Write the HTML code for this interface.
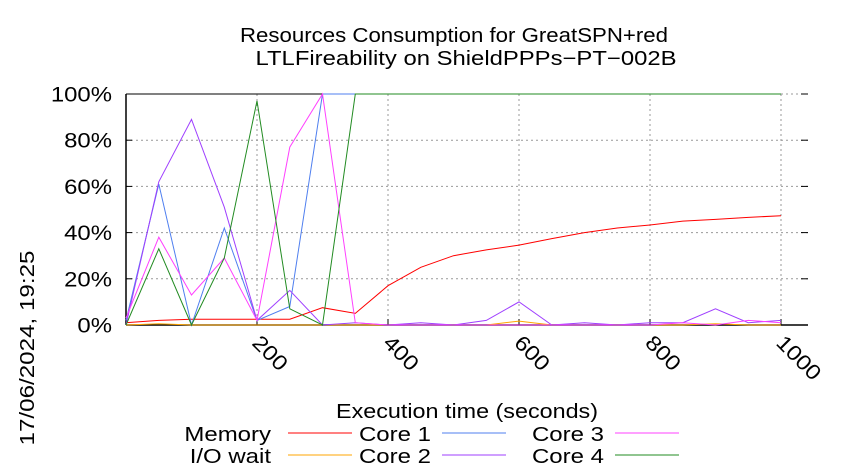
<!DOCTYPE html>
<html><head><meta charset="utf-8"><style>
html,body{margin:0;padding:0;background:#fff;}
svg{display:block;font-family:"Liberation Sans",sans-serif;}
</style></head><body>
<svg id="chart" width="850" height="475" viewBox="0 0 850 475">
<text x="454" y="42" font-size="20" text-anchor="middle" textLength="428" lengthAdjust="spacingAndGlyphs">Resources Consumption for GreatSPN+red</text>
<text x="466" y="65" font-size="20" text-anchor="middle" textLength="421" lengthAdjust="spacingAndGlyphs">LTLFireability on ShieldPPPs−PT−002B</text>
<text transform="translate(34,348) rotate(-90)" font-size="20" text-anchor="middle" textLength="195" lengthAdjust="spacingAndGlyphs">17/06/2024, 19:25</text>
<text x="467" y="418" font-size="20" text-anchor="middle" textLength="262" lengthAdjust="spacingAndGlyphs">Execution time (seconds)</text>
<g id="grid"></g>
<g id="axes"></g>
<g id="series"></g>
<g id="legend"></g>
</svg>
<script>
const times = [0,50,100,150,200,250,300,350,400,450,500,550,600,650,700,750,800,850,900,950,1000];
const memory = [1,2,2.5,2.5,2.5,2.5,7.5,5,17,25,30,32.5,34.6,37.4,40,42,43.3,45,45.7,46.6,47.3];
const ioWait = [0,0.5,0,0,0,0,0,0,0,0,0,0,1.7,0,0,0,0,0,0.5,0,0];
const core1 = [2,61,0,42,2,8,100,100,100,100,100,100,100,100,100,100,100,100,100,100,100];
const core2 = [0,62,89,51,2,15,0,1,0,1,0,2,10,0,1,0,1,1,7,1,2];
const core3 = [3,38,13,29,2,77,100,1,0,0,0,0,0,0,0,0,0,1,0,2,1];
const core4 = [0,33,0,29,97,7,0,100,100,100,100,100,100,100,100,100,100,100,100,100,100];
const yTicks = [0,20,40,60,80,100];
const xTicks = [200,400,600,800,1000];

const NS='http://www.w3.org/2000/svg';
const X0=126, XPER=131/200, Y0=325, YTOP=94, XR=808;
const sx=v=>X0+v*XPER;
const sy=v=>Y0-(Y0-YTOP)*v/100;
function mk(tag,attrs,parent){const e=document.createElementNS(NS,tag);for(const k in attrs)e.setAttribute(k,attrs[k]);parent.appendChild(e);return e;}
const grid=document.getElementById('grid'),axes=document.getElementById('axes'),series=document.getElementById('series'),legend=document.getElementById('legend');

yTicks.forEach(v=>{
  const y=sy(v);
  if(v>0){const g=mk('line',{x1:X0,y1:y,x2:XR,y2:y,stroke:'#999','stroke-dasharray':'2,3','stroke-width':1},grid);
  
  }
  const t=mk('line',{x1:X0,y1:y,x2:X0+6,y2:y,stroke:'#000'},axes);
  
  
  const t2=mk('line',{x1:XR-7,y1:y,x2:XR,y2:y,stroke:'#000'},axes);
  
  
  const l=mk('text',{transform:`translate(112,${y+7.5}) scale(1.14,1)`,'font-size':21,'text-anchor':'end'},axes);
  l.textContent=v+'%';
  
  
});
xTicks.forEach(v=>{
  const x=sx(v);
  const g=mk('line',{x1:x,y1:YTOP,x2:x,y2:Y0,stroke:'#999','stroke-dasharray':'2,3','stroke-width':1},grid);
  
  
  const t=mk('line',{x1:x,y1:Y0,x2:x,y2:Y0-6,stroke:'#000'},axes);
  
  
  const l=mk('text',{transform:`translate(${x-6},${Y0+19}) rotate(45) scale(1.14,1)`,'font-size':21},axes);
  l.textContent=v;
  
  
});
const b1=mk('line',{x1:X0,y1:YTOP,x2:X0,y2:Y0,stroke:'#000','stroke-width':1.5},axes);


const b2=mk('line',{x1:X0,y1:Y0,x2:XR,y2:Y0,stroke:'#000','stroke-width':1.5},axes);


const b3=mk('line',{x1:X0,y1:YTOP,x2:sx(1000),y2:YTOP,stroke:'#000','stroke-width':1},axes);



const defs=[
 ['Memory',memory,'#ff0000','series-memory'],
 ['I/O wait',ioWait,'#ffa500','series-io-wait'],
 ['Core 1',core1,'#4f7fef','series-core-1'],
 ['Core 2',core2,'#9f3fff','series-core-2'],
 ['Core 3',core3,'#ff40ff','series-core-3'],
 ['Core 4',core4,'#228b22','series-core-4']
];
defs.forEach(([name,vals,col,dn])=>{
  const pts=vals.map((v,i)=>sx(times[i]).toFixed(1)+','+sy(v).toFixed(1)).join(' ');
  const p=mk('polyline',{points:pts,fill:'none',stroke:col,'stroke-width':1},series);
  
  
});
const lpos=[[271,288,441],[271,288,463],[431,442,441],[431,442,463],[604,615,441],[604,615,463]];
defs.forEach(([name,vals,col,dn],i)=>{
  const [tx,lx,y]=lpos[i];
  const t=mk('text',{transform:`translate(${tx},${y}) scale(1.2,1)`,'font-size':20,'text-anchor':'end'},legend);
  t.textContent=name;
  
  
  const l=mk('line',{x1:lx,y1:y-8,x2:lx+64,y2:y-8,stroke:col,'stroke-width':1},legend);
  
  
});
</script>
</body></html>
